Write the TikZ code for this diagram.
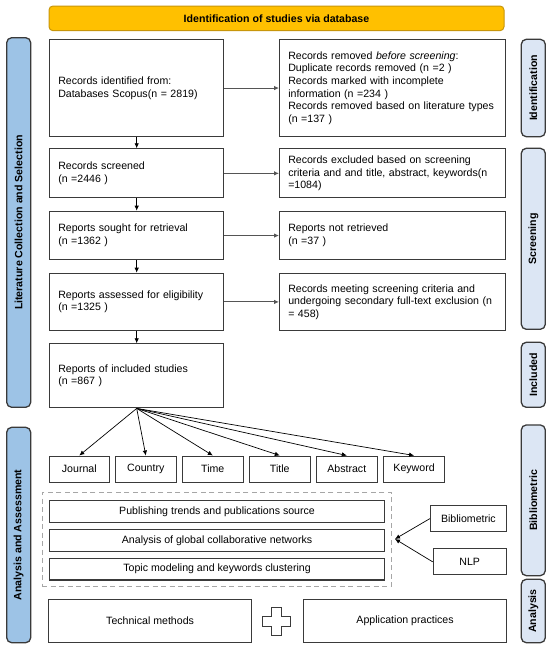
\documentclass[tikz,border=0pt]{standalone}
\usepackage{fontspec}
\setmainfont{Liberation Sans}
\usetikzlibrary{arrows.meta,calc}
\definecolor{bannerfill}{HTML}{FFC000}
\definecolor{bannerdraw}{HTML}{C8960A}
\definecolor{sideLc}{HTML}{9DC3E6}
\definecolor{sideRc}{HTML}{DCE6F4}
\definecolor{boxc}{HTML}{3A3A3A}
\definecolor{dashc}{HTML}{A6A6A6}
\definecolor{linec}{HTML}{555555}
\begin{document}
\begin{tikzpicture}[x=1pt,y=-1pt,
  font=\fontsize{10.6}{12.6}\selectfont,
  box/.style={draw=boxc, line width=1.1pt, fill=white, anchor=north west, inner xsep=8.7pt, inner ysep=2pt, align=left},
  lbox/.style={box, text width=156.9pt, minimum height=#1},
  rbox/.style={box, text width=208.1pt, minimum height=#1},
  cbox/.style={draw=boxc, line width=1.1pt, fill=white, anchor=north west, inner sep=0pt, align=center},
  sidebar/.style={draw=boxc, line width=1.3pt, rounded corners=5pt, rotate=90, minimum height=24pt, inner sep=0pt, font=\fontsize{10.6}{12}\selectfont\bfseries},
  sideleft/.style={sidebar, fill=sideLc, minimum width=#1},
  sideright/.style={sidebar, fill=sideRc, minimum width=#1},
  arr/.style={-{Latex[length=5pt,width=4.5pt]}, line width=0.8pt, draw=black},
  harr/.style={-{Latex[length=5pt,width=4.5pt]}, line width=0.9pt, draw=linec},
  fan/.style={-{Latex[length=5pt,width=4.5pt]}, line width=0.7pt, draw=black}
]
\useasboundingbox[fill=white] (0,0) rectangle (550,648);

% banner
\node[draw=bannerdraw, fill=bannerfill, line width=1pt, rounded corners=4pt, minimum width=455pt, minimum height=24.7pt, inner sep=0pt, font=\fontsize{10.6}{12}\selectfont\bfseries] (banner) at (276.5,18.35) {Identification of studies via database};

% side bars
\node[sideleft=369.6pt] (sL1) at (18.7,222.5) {Literature Collection and Selection};
\node[sideleft=215.4pt] (sL2) at (18.7,535) {Analysis and Assessment};
\node[sideright=97.4pt] (sR1) at (533.3,88) {Identification};
\node[sideright=181pt] (sR2) at (533.3,238.8) {Screening};
\node[sideright=65pt] (sR3) at (533.3,374.8) {Included};
\node[sideright=150.7pt] (sR4) at (533.3,500.3) {Bibliometric};
\node[sideright=63.4pt] (sR5) at (533.3,611) {Analysis};

% left column
\node[lbox=96.4pt] (b1) at (49,39.3) {Records identified from:\\Databases Scopus(n = 2819)};
\node[lbox=49pt] (b2) at (49,148.3) {Records screened\\(n =2446 )};
\node[lbox=48.6pt] (b3) at (49,210.7) {Reports sought for retrieval\\(n =1362 )};
\node[lbox=57.3pt] (b4) at (49,272.7) {Reports assessed for eligibility\\(n =1325 )};
\node[lbox=64pt] (b5) at (49,343.3) {Reports of included studies\\(n =867 )};

% right column
\node[rbox=96.4pt] (r1) at (279,39.3) {Records removed \textit{before screening}:\\Duplicate records removed (n =2 )\\Records marked with incomplete\\information (n =234 )\\Records removed based on literature types\\(n =137 )};
\node[rbox=49pt] (r2) at (279,148.3) {Records excluded based on screening\\criteria and and title, abstract, keywords(n\\=1084)};
\node[rbox=48.6pt] (r3) at (279,210.7) {Reports not retrieved\\(n =37 )};
\node[rbox=57.3pt] (r4) at (279,272.7) {Records meeting screening criteria and\\undergoing secondary full-text exclusion (n\\= 458)};

% vertical arrows
\draw[arr] (b1.south) -- (b2.north);
\draw[arr] (b2.south) -- (b3.north);
\draw[arr] (b3.south) -- (b4.north);
\draw[arr] (b4.south) -- (b5.north);
% horizontal arrows
\draw[harr] (b1.east) -- (b1.east -| r1.west);
\draw[harr] (b2.east) -- (b2.east -| r2.west);
\draw[harr] (b3.east) -- (b3.east -| r3.west);
\draw[harr] (b4.east) -- (b4.east -| r4.west);

% small category boxes
\node[cbox, minimum width=60.5pt, minimum height=26.2pt] (jo) at (48.5,455.5) {Journal};
\node[cbox, minimum width=60.5pt, minimum height=26.2pt] (co) at (115,455.5) {Country};
\node[cbox, minimum width=60.5pt, minimum height=26.2pt] (ti) at (182,455.5) {Time};
\node[cbox, minimum width=60.5pt, minimum height=26.2pt] (tl) at (249,455.5) {Title};
\node[cbox, minimum width=60.5pt, minimum height=26.2pt] (ab) at (316,455.5) {Abstract};
\node[cbox, minimum width=60.5pt, minimum height=26.2pt] (kw) at (383.3,455.5) {Keyword};
\foreach \t in {jo,co,ti,tl,ab,kw}{\draw[fan] (b5.south) -- (\t.north);}

% dashed group
\node[draw=dashc, dash pattern=on 5pt off 3.5pt, line width=1pt, anchor=north west, minimum width=349.3pt, minimum height=94pt, inner sep=0pt] (grp) at (41.7,491.7) {};
\node[cbox, minimum width=335pt, minimum height=21.7pt] (p1) at (49,500) {Publishing trends and publications source};
\node[cbox, minimum width=335pt, minimum height=21.7pt] (p2) at (49,529) {Analysis of global collaborative networks};
\node[cbox, minimum width=335pt, minimum height=21.7pt] (p3) at (49,557.7) {Topic modeling and keywords clustering};

% method boxes
\node[cbox, minimum width=75.7pt, minimum height=26pt] (bib) at (430,505) {Bibliometric};
\node[cbox, minimum width=73pt, minimum height=26pt] (nlp) at (432.7,548.3) {NLP};
\coordinate (conv) at (395,539);
\draw[fan] (bib.west) -- (conv);
\draw[fan] (nlp.west) -- (conv);

% bottom boxes
\node[cbox, minimum width=202.5pt, minimum height=43.3pt] (tech) at (48.3,599) {Technical methods};
\node[cbox, minimum width=202.4pt, minimum height=43.3pt] (app) at (303.3,599) {Application practices};

% plus sign
\draw[draw=boxc, line width=1.1pt, fill=white, shift={(276.7,621.3)}]
  (-5,-14) -- (5,-14) -- (5,-5) -- (14,-5) -- (14,5) -- (5,5) -- (5,14) -- (-5,14) -- (-5,5) -- (-14,5) -- (-14,-5) -- (-5,-5) -- cycle;
\end{tikzpicture}
\end{document}
